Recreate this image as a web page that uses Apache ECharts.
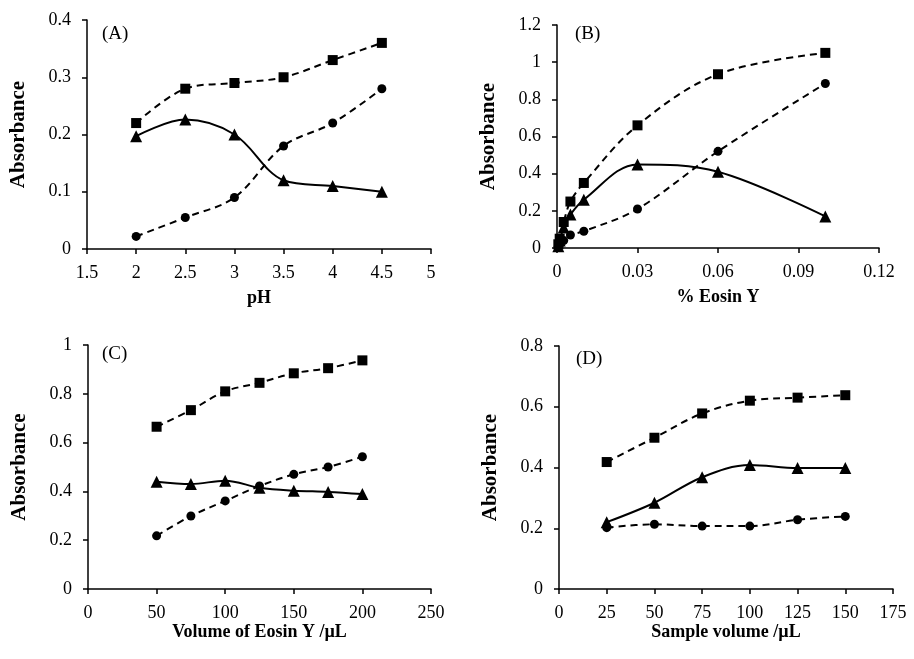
<!DOCTYPE html>
<html><head><meta charset="utf-8">
<script src="https://cdn.jsdelivr.net/npm/echarts@6/dist/echarts.min.js"></script>
<style>html,body{margin:0;padding:0;background:#fff}#c{width:914px;height:659px}</style>
</head><body><div id="c"></div>
<script>
// Panel A: pH
const phX = [2, 2.5, 3, 3.5, 4, 4.5];
const aSquare = [0.22, 0.28, 0.29, 0.30, 0.33, 0.36];
const aCircle = [0.022, 0.055, 0.09, 0.18, 0.22, 0.28];
const aTriangle = [0.197, 0.226, 0.20, 0.12, 0.11, 0.10];
// Panel B: % Eosin Y
const eosX = [0.0005, 0.001, 0.0025, 0.005, 0.01, 0.03, 0.06, 0.1];
const bSquare = [0.02, 0.05, 0.14, 0.25, 0.35, 0.66, 0.935, 1.05];
const bCircle = [0.01, 0.02, 0.04, 0.07, 0.09, 0.21, 0.52, 0.885];
const bTriangle = [0.01, 0.04, 0.11, 0.18, 0.26, 0.45, 0.41, 0.17];
// Panel C: Volume of Eosin Y
const volX = [50, 75, 100, 125, 150, 175, 200];
const cSquare = [0.665, 0.733, 0.81, 0.845, 0.884, 0.905, 0.937];
const cCircle = [0.218, 0.299, 0.361, 0.422, 0.47, 0.5, 0.542];
const cTriangle = [0.44, 0.43, 0.444, 0.415, 0.403, 0.398, 0.389];
// Panel D: Sample volume
const sampX = [25, 50, 75, 100, 125, 150];
const dSquare = [0.418, 0.498, 0.578, 0.62, 0.63, 0.638];
const dCircle = [0.202, 0.213, 0.207, 0.207, 0.228, 0.239];
const dTriangle = [0.22, 0.284, 0.368, 0.408, 0.398, 0.398];

const panelLabels = ['(A)', '(B)', '(C)', '(D)'];
const xNames = ['pH', '% Eosin Y', 'Volume of Eosin Y /\u00b5L', 'Sample volume /\u00b5L'];
const yName = 'Absorbance';

const FONT = 'Liberation Serif';
const grids = [
  {left: 87, top: 20, width: 344, height: 229},
  {left: 557, top: 25, width: 322, height: 223},
  {left: 88, top: 345, width: 343, height: 244},
  {left: 559, top: 346, width: 334, height: 243}
];
const xr = [[1.5, 5, 0.5], [0, 0.12, 0.03], [0, 250, 50], [0, 175, 25]];
const yr = [[0, 0.4, 0.1], [0, 1.2, 0.2], [0, 1, 0.2], [0, 0.8, 0.2]];
const xNameGap = [40, 40, 30, 30];

function fmt(v) { return String(Math.round(v * 1000) / 1000); }
function axisBase() {
  return {
    axisLine: {show: true, lineStyle: {color: '#000', width: 1.5}},
    axisTick: {show: true, length: 5, lineStyle: {color: '#000', width: 1.5}},
    splitLine: {show: false}
  };
}
const xAxes = xr.map((r, i) => Object.assign(axisBase(), {
  type: 'value', gridIndex: i, min: r[0], max: r[1], interval: r[2],
  name: xNames[i], nameLocation: 'middle', nameGap: xNameGap[i],
  nameTextStyle: {color: '#000', fontFamily: FONT, fontSize: 18, fontWeight: 'bold'},
  axisLabel: {color: '#000', fontFamily: FONT, fontSize: 18, margin: 15, formatter: fmt}
}));
const yAxes = yr.map((r, i) => Object.assign(axisBase(), {
  type: 'value', gridIndex: i, min: r[0], max: r[1], interval: r[2],
  name: yName, nameLocation: 'middle', nameGap: 58, nameRotate: 90,
  nameTextStyle: {color: '#000', fontFamily: FONT, fontSize: 21, fontWeight: 'bold'},
  axisLabel: {color: '#000', fontFamily: FONT, fontSize: 18, margin: 16, formatter: fmt}
}));

function mk(xs, ys) { return xs.map((x, i) => [x, ys[i]]); }
function ser(i, xs, ys, kind) {
  const sym = {square: ['rect', 10], circle: ['circle', 9], triangle: ['triangle', 12]}[kind];
  return {
    type: 'line', xAxisIndex: i, yAxisIndex: i, data: mk(xs, ys),
    smooth: 0.35, symbol: sym[0], symbolSize: sym[1],
    itemStyle: {color: '#000'},
    lineStyle: {color: '#000', width: 2, type: kind === 'triangle' ? 'solid' : [7, 5]},
    z: kind === 'triangle' ? 3 : 2
  };
}
const series = [
  ser(0, phX, aSquare, 'square'), ser(0, phX, aCircle, 'circle'), ser(0, phX, aTriangle, 'triangle'),
  ser(1, eosX, bSquare, 'square'), ser(1, eosX, bCircle, 'circle'), ser(1, eosX, bTriangle, 'triangle'),
  ser(2, volX, cSquare, 'square'), ser(2, volX, cCircle, 'circle'), ser(2, volX, cTriangle, 'triangle'),
  ser(3, sampX, dSquare, 'square'), ser(3, sampX, dCircle, 'circle'), ser(3, sampX, dTriangle, 'triangle')
];
const labelPos = [[102, 25], [575, 25], [102, 345], [576, 350]];
const titles = panelLabels.map((t, i) => ({
  text: t, left: labelPos[i][0], top: labelPos[i][1], padding: 0,
  textStyle: {fontFamily: FONT, fontSize: 19, fontWeight: 'normal', color: '#000'}
}));

const chart = echarts.init(document.getElementById('c'), null, {renderer: 'canvas'});
chart.setOption({
  animation: false,
  backgroundColor: '#fff',
  title: titles,
  grid: grids,
  xAxis: xAxes,
  yAxis: yAxes,
  series: series
});
</script></body></html>
